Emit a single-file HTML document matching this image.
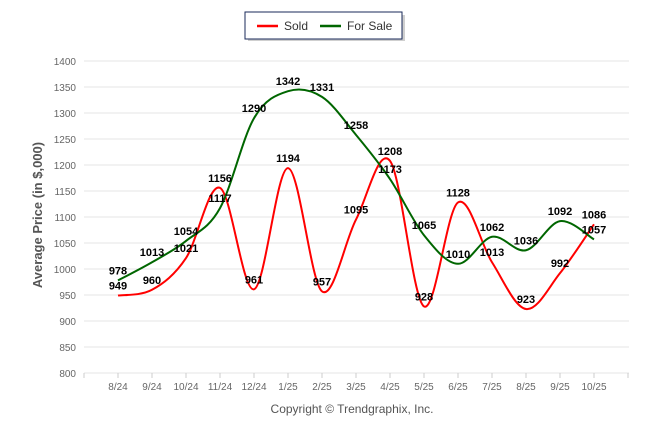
<!DOCTYPE html>
<html><head><meta charset="utf-8"><style>
body{margin:0;background:#fff;width:646px;height:434px;overflow:hidden;font-family:"Liberation Sans",sans-serif}
</style></head><body>
<svg id="c" width="646" height="434" xmlns="http://www.w3.org/2000/svg" font-family="Liberation Sans, sans-serif">
<g>
<rect x="248" y="15" width="157" height="26" fill="#888" opacity="0.4"/>
<rect x="245" y="12" width="157" height="27" fill="#fff" stroke="#1a2a5a" stroke-width="1"/>
<g><line x1="257" y1="26" x2="278" y2="26" stroke="#f00" stroke-width="2.5"/><text x="284" y="30" font-size="12" fill="#333">Sold</text></g>
<g><line x1="320" y1="26" x2="341" y2="26" stroke="#060" stroke-width="2.5"/><text x="347" y="30" font-size="12" fill="#333">For Sale</text></g>
</g>
<text transform="translate(42,215) rotate(-90)" text-anchor="middle" font-size="13" font-weight="bold" fill="#555">Average Price (in $,000)</text>
<text x="352" y="413" text-anchor="middle" font-size="12" fill="#555">Copyright © Trendgraphix, Inc.</text>
<g id="grid"></g><g id="series"></g><g id="labels"></g>
</svg>
<script>
const categories=["8/24","9/24","10/24","11/24","12/24","1/25","2/25","3/25","4/25","5/25","6/25","7/25","8/25","9/25","10/25"];
const soldValues=[949,960,1021,1156,961,1194,957,1095,1208,928,1128,1013,923,992,1086];
const forSaleValues=[978,1013,1054,1117,1290,1342,1331,1258,1173,1065,1010,1062,1036,1092,1057];
const yTicks=[800,850,900,950,1000,1050,1100,1150,1200,1250,1300,1350,1400];
const NS="http://www.w3.org/2000/svg";
const X=i=>84+34*(i+1);
const Y=v=>373-(v-800)*(312/600);
function el(t,a,p){const e=document.createElementNS(NS,t);for(const k in a)e.setAttribute(k,a[k]);p.appendChild(e);return e;}
const grid=document.getElementById('grid'),ser=document.getElementById('series'),lab=document.getElementById('labels');
yTicks.forEach(v=>{
 const l=el('line',{x1:84,x2:629,y1:Y(v),y2:Y(v),stroke:'#e6e6e6','stroke-width':1},grid);
 
 
 const t=el('text',{x:76,y:Y(v)+4,'text-anchor':'end','font-size':10,fill:'#666'},grid);t.textContent=v;
 
 
});
for(let i=-1;i<=15;i++){const t=el('line',{x1:X(i),x2:X(i),y1:373,y2:378,stroke:'#ccc'},grid);
 
 }
categories.forEach((c,i)=>{const t=el('text',{x:X(i),y:390,'text-anchor':'middle','font-size':10,fill:'#666'},grid);t.textContent=c;
 
 });
function spline(vals){
 const p=vals.map((v,i)=>[X(i),Y(v)]);let d='M'+p[0][0]+','+p[0][1];const s=1/6;
 for(let i=0;i<p.length-1;i++){const a=p[i-1]||p[i],b=p[i],c=p[i+1],e=p[i+2]||c;
  d+=` C${b[0]+(c[0]-a[0])*s},${b[1]+(c[1]-a[1])*s} ${c[0]-(e[0]-b[0])*s},${c[1]-(e[1]-b[1])*s} ${c[0]},${c[1]}`;}
 return d;}
[[soldValues,'#f00','sold-line'],[forSaleValues,'#060','for-sale-line']].forEach(([vals,col,name])=>{
 const pth=el('path',{d:spline(vals),fill:'none',stroke:col,'stroke-width':2},ser);
 
 
 vals.forEach((v,i)=>{const t=el('text',{x:X(i),y:Y(v)-6,'text-anchor':'middle','font-size':11,'font-weight':'bold',fill:'#000'},lab);t.textContent=v;
  
  });
});
</script>
</body></html>
